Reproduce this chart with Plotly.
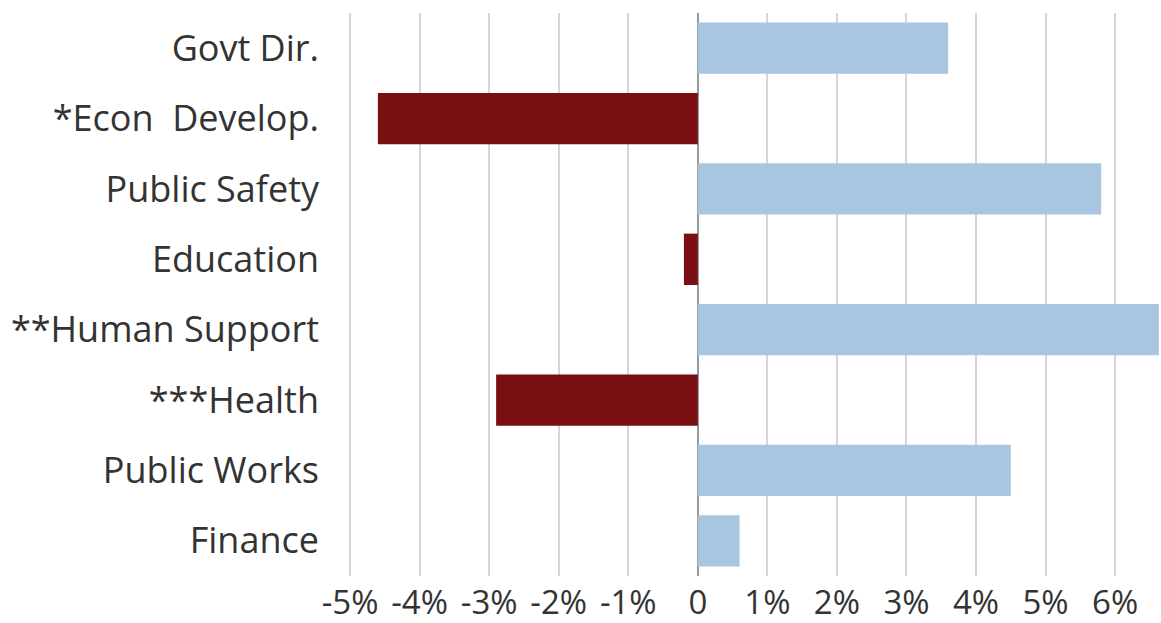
import plotly.graph_objects as go

# Department budget change, top to bottom as shown
departments = ['Govt Dir.', '*Econ  Develop.', 'Public Safety', 'Education',
               '**Human Support', '***Health', 'Public Works', 'Finance']
change_pct = [3.6, -4.6, 5.8, -0.2, 6.63, -2.9, 4.5, 0.6]

tick_vals = [-5, -4, -3, -2, -1, 0, 1, 2, 3, 4, 5, 6]
tick_text = ['-5%', '-4%', '-3%', '-2%', '-1%', '0', '1%', '2%', '3%', '4%', '5%', '6%']

POS_COLOR = '#a8c6df'
NEG_COLOR = '#7a0f13'

fig = go.Figure()

fig.add_trace(
    go.Bar(
        x=change_pct,
        y=departments,
        orientation='h',
        width=0.73,
        marker=dict(color=[POS_COLOR if v >= 0 else NEG_COLOR for v in change_pct],
                    line=dict(width=0)),
        hovertemplate='%{y}: %{x}%<extra></extra>'
    )
)

fig.update_layout(
    width=1161,
    height=623,
    margin=dict(l=348, r=0, t=13, b=47),
    paper_bgcolor='white',
    plot_bgcolor='white',
    showlegend=False,
    font=dict(family='Open Sans, Lato, sans-serif', size=36, color='#333333'),
    bargap=0.27
)

fig.update_xaxes(
    range=[-5.03, 6.66],
    tickvals=tick_vals,
    ticktext=tick_text,
    showgrid=True,
    gridcolor='#d6d6d6',
    gridwidth=2,
    zeroline=True,
    zerolinecolor='#9a9a9a',
    zerolinewidth=2,
    showline=False,
    ticks='',
    ticklabelstandoff=4,
    tickfont=dict(size=33),
    automargin=False
)

fig.update_yaxes(
    categoryorder='array',
    categoryarray=departments,
    autorange='reversed',
    showgrid=False,
    showline=False,
    ticks='',
    ticklabelstandoff=28,
    tickfont=dict(size=36),
    automargin=False
)

# drop the default 8px page margin so the figure sits at the window's corner
fig.write_html("out.html", config={'displayModeBar': False},
               post_script="document.body.style.margin='0';")
